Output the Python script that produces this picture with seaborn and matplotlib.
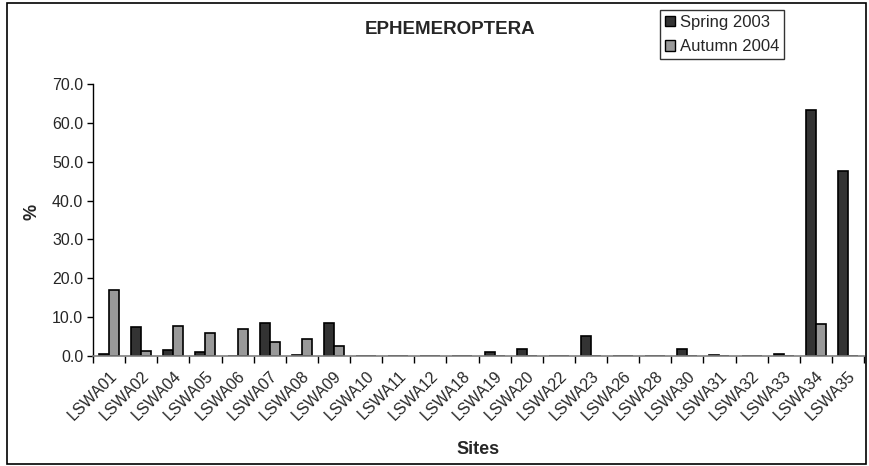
import matplotlib
matplotlib.use("Agg")
import matplotlib.pyplot as plt
import seaborn as sns
import pandas as pd
import numpy as np
from matplotlib.patches import Rectangle

sites = ["LSWA01", "LSWA02", "LSWA04", "LSWA05", "LSWA06", "LSWA07", "LSWA08",
         "LSWA09", "LSWA10", "LSWA11", "LSWA12", "LSWA18", "LSWA19", "LSWA20",
         "LSWA22", "LSWA23", "LSWA26", "LSWA28", "LSWA30", "LSWA31", "LSWA32",
         "LSWA33", "LSWA34", "LSWA35"]
spring_2003 = [0.5, 7.5, 1.5, 1.0, 0.0, 8.4, 0.3, 8.5, 0.0, 0.0, 0.0, 0.0, 1.0,
               1.7, 0.0, 5.1, 0.0, 0.0, 1.7, 0.3, 0.0, 0.5, 63.3, 47.7]
autumn_2004 = [17.0, 1.2, 7.6, 6.0, 7.0, 3.5, 4.3, 2.5, 0.0, 0.0, 0.0, 0.0, 0.0,
               0.0, 0.0, 0.0, 0.0, 0.0, 0.0, 0.0, 0.0, 0.0, 8.3, 0.0]
series_names = ["Spring 2003", "Autumn 2004"]
yticks = [0, 10, 20, 30, 40, 50, 60, 70]

df = pd.DataFrame({
    "Sites": sites * 2,
    "value": spring_2003 + autumn_2004,
    "Series": [series_names[0]] * len(sites) + [series_names[1]] * len(sites),
})

sns.set_theme(style="white")
plt.rcParams["font.family"] = ["Liberation Sans", "DejaVu Sans"]

W, H = 869, 466
fig = plt.figure(figsize=(W / 100, H / 100), dpi=100)
ax = fig.add_axes([93 / W, 1 - 356 / H, (864 - 93) / W, (356 - 84) / H])

sns.barplot(data=df, x="Sites", y="value", hue="Series", order=sites,
            hue_order=series_names, palette=["#333333", "#999999"],
            width=0.62, edgecolor="black", linewidth=1.2, ax=ax,
            legend=False, errorbar=None, saturation=1)

ax.set_ylim(0, 70)
ax.set_xlim(-0.5, len(sites) - 0.5)
ax.set_yticks(yticks)
ax.set_yticklabels([f"{v:.1f}" for v in yticks], fontsize=11.5)
ax.set_xticks(range(len(sites)))
ax.set_xticklabels(sites, rotation=45, ha="right", va="top",
                   rotation_mode="anchor", fontsize=11.5)
ax.tick_params(axis="x", which="major", length=0, pad=9)
ax.set_xticks(np.arange(-0.5, len(sites), 1.0), minor=True)
ax.tick_params(axis="x", which="minor", length=5, width=1, color="black",
               direction="out", bottom=True)
ax.tick_params(axis="y", length=4, width=1, color="black", direction="out",
               left=True, pad=3)

for side in ["top", "right"]:
    ax.spines[side].set_visible(False)
ax.spines["left"].set_color("black")
ax.spines["left"].set_linewidth(1)
ax.spines["bottom"].set_color("#808080")
ax.spines["bottom"].set_linewidth(1.2)

ax.set_xlabel("")
ax.set_ylabel("")
fig.text(478 / W, 1 - 449 / H, "Sites", ha="center", va="center",
         fontsize=13, fontweight="bold")
fig.text(32 / W, 1 - 212 / H, "%", ha="center", va="center", rotation=90,
         fontsize=13, fontweight="bold")
fig.text(450 / W, 1 - 29 / H, "EPHEMEROPTERA", ha="center", va="center",
         fontsize=13.5, fontweight="bold")

handles = [Rectangle((0, 0), 1, 1, facecolor=c, edgecolor="black", linewidth=1)
           for c in ["#333333", "#999999"]]
leg = fig.legend(handles, series_names, loc="upper left",
                 bbox_to_anchor=(660 / W, 1 - 10 / H), fontsize=12,
                 frameon=True, fancybox=False, framealpha=1, edgecolor="#333333",
                 handlelength=0.6, handleheight=0.6, handletextpad=0.3,
                 borderpad=0.3, labelspacing=0.55, borderaxespad=0)
leg.get_frame().set_linewidth(1.0)

fig.patches.append(Rectangle((7 / W, 2 / H), (866 - 7) / W, (463 - 2) / H,
                             transform=fig.transFigure, fill=False,
                             edgecolor="black", linewidth=1.2))

fig.savefig("out.png", dpi=100)
